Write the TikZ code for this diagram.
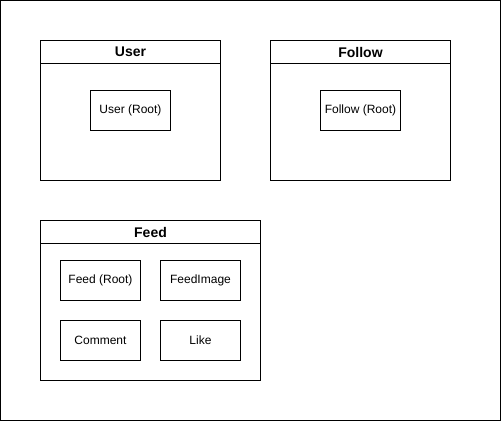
\documentclass[tikz,border=0pt]{standalone}
\usepackage{fontspec}
\setmainfont{Liberation Sans}
\begin{document}
\begin{tikzpicture}[x=1pt,y=-1pt,
  line width=1pt,
  entity/.style={draw=black,fill=white,minimum width=80pt,minimum height=40pt,inner sep=0pt,font=\fontsize{12}{14}\selectfont},
  title/.style={font=\bfseries\fontsize{14}{16}\selectfont,inner sep=0pt}]
\useasboundingbox (0,0) rectangle (501,421);
\draw[line width=1pt] (0.5,0.5) rectangle (500.5,420.5);
% User
\draw (40.5,40.5) rectangle (220.5,180.5);
\draw (40.5,63.5) -- (220.5,63.5);
\node[title] (tuser) at (130.5,52) {User};
\node[entity] (user) at (130.5,110.5) {User (Root)};
% Follow
\draw (270.5,40.5) rectangle (450.5,180.5);
\draw (270.5,63.5) -- (450.5,63.5);
\node[title] (tfollow) at (360.5,52) {Follow};
\node[entity] (follow) at (360.5,110.5) {Follow (Root)};
% Feed
\draw (40.5,220.5) rectangle (260.5,380.5);
\draw (40.5,243.5) -- (260.5,243.5);
\node[title] (tfeed) at (150.5,232) {Feed};
\node[entity] (feed) at (100.5,280.5) {Feed (Root)};
\node[entity] (feedimage) at (200.5,280.5) {FeedImage};
\node[entity] (comment) at (100.5,340.5) {Comment};
\node[entity] (like) at (200.5,340.5) {Like};
\end{tikzpicture}
\end{document}
